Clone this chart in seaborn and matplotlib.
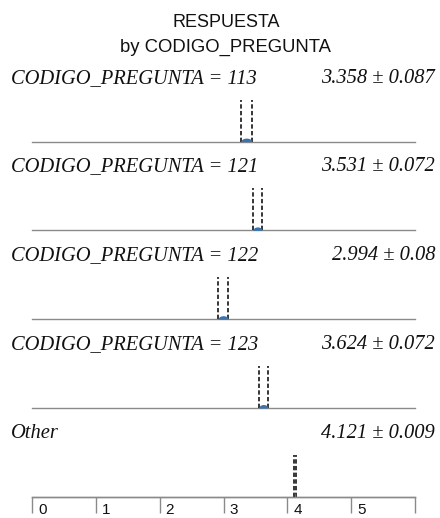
import numpy as np
import matplotlib
matplotlib.use("Agg")
import matplotlib.pyplot as plt
import seaborn as sns

# Group labels, means and errors for RESPUESTA split by CODIGO_PREGUNTA
groups = ["CODIGO_PREGUNTA = 113", "CODIGO_PREGUNTA = 121",
          "CODIGO_PREGUNTA = 122", "CODIGO_PREGUNTA = 123", "Other"]
means = [3.358, 3.531, 2.994, 3.624, 4.121]
errors = [0.087, 0.072, 0.08, 0.072, 0.009]
tick_values = [0, 1, 2, 3, 4, 5, 6]
tick_labels = ["0", "1", "2", "3", "4", "5"]
title_lines = ["RESPUESTA", "by CODIGO_PREGUNTA"]

sns.set_theme(style="white")
plt.rcParams["font.family"] = ["Liberation Sans", "DejaVu Sans"]

W, H = 440, 518
fig = plt.figure(figsize=(W / 100, H / 100), dpi=100)

x_left, x_right = 32, 415
first_base, step = 141.6, 88.8
panel_h = 42
grey = "#8a8a8a"
dash_col = "#262626"
blue = "#3b73ad"
text_col = "#111111"

left = x_left / W
width = (x_right - x_left) / W

for i, (name, m, e) in enumerate(zip(groups, means, errors)):
    base = first_base + step * i
    ax = fig.add_axes([left, 1 - base / H, width, panel_h / H])
    ax.set_xlim(0, 6)
    ax.set_ylim(0, 1)
    ax.set_xticks([])
    ax.set_yticks([])
    ax.patch.set_alpha(0)
    sns.despine(ax=ax, left=True, top=True, right=True, bottom=False)
    ax.spines["bottom"].set_color(grey)
    ax.spines["bottom"].set_linewidth(1.0)

    # dashed interval markers
    ax.vlines([m - e, m + e], 0, 1, colors=dash_col, linewidth=1.3,
              linestyles=(0, (2.4, 1.3)), zorder=3)
    # small half-ellipse at the mean spanning the interval
    xs = np.linspace(m - e, m + e, 60)
    ys = (3.5 / panel_h) * np.sqrt(np.clip(1 - ((xs - m) / e) ** 2, 0, 1))
    ax.fill_between(xs, 0, ys, color=blue, linewidth=0, zorder=4)

    lab_y = 59 / panel_h
    ax.text(-0.055, lab_y, name, transform=ax.transAxes, ha="left",
            va="baseline", fontsize=14.8, style="italic",
            family=["Liberation Serif", "DejaVu Serif"], color=text_col)
    ax.text((435 - x_left) / (x_right - x_left), lab_y, f"{m:g} \u00b1 {e:g}",
            transform=ax.transAxes, ha="right", va="baseline", fontsize=14.8,
            style="italic", family=["Liberation Serif", "DejaVu Serif"],
            color=text_col)

# scale strip at the bottom
scale_top = first_base + step * (len(groups) - 1)
sax = fig.add_axes([left, 0, width, (H - scale_top) / H])
sax.set_xlim(0, 6)
sax.set_ylim(0, 1)
sax.patch.set_alpha(0)
sns.despine(ax=sax, left=True, bottom=True, right=True, top=False)
sax.spines["top"].set_color(grey)
sax.spines["top"].set_linewidth(1.0)
sax.set_yticks([])
sax.set_xticks(tick_values)
sax.tick_params(axis="x", direction="in", top=True, bottom=False,
                labeltop=False, labelbottom=False, length=11.5,
                width=1.0, color=grey)
strip_h = H - scale_top
for v, lab in zip(tick_values, tick_labels):
    sax.text(v + 6 / ((x_right - x_left) / 6), 3.5 / strip_h, lab,
             ha="left", va="baseline", fontsize=11, color=text_col)

fig.text(226 / W, 1 - 27 / H, title_lines[0], ha="center", va="baseline",
         fontsize=13, color=text_col)
fig.text(225 / W, 1 - 52 / H, title_lines[1], ha="center", va="baseline",
         fontsize=13.3, color=text_col)

fig.savefig("out.png", dpi=100, facecolor="white")
